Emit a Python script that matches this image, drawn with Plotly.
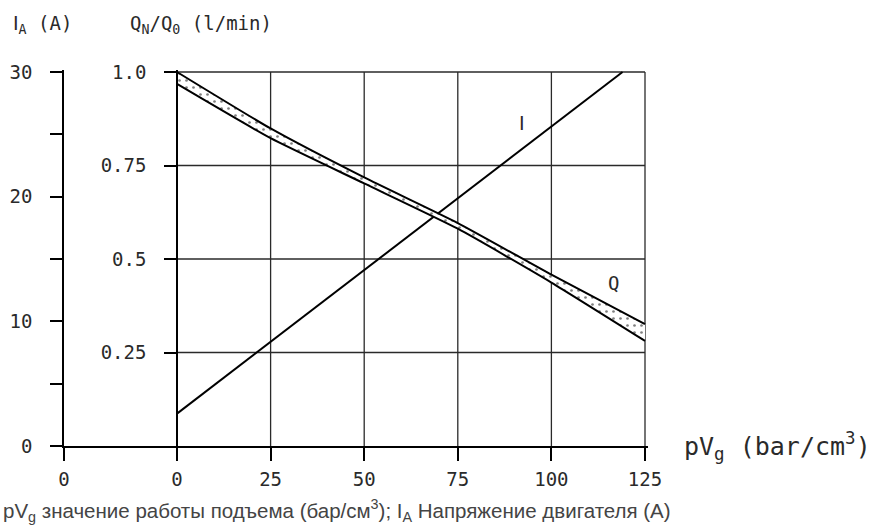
import plotly.graph_objects as go

# ---- data ----
PV = [0, 25, 50, 75, 100, 125]                      # pV_g (bar/cm3)
Q_UPPER = [1.0, 0.849, 0.718, 0.596, 0.458, 0.326]  # Q_N/Q_0 upper bound
Q_LOWER = [0.968, 0.823, 0.702, 0.581, 0.437, 0.281]  # Q_N/Q_0 lower bound
I_PV = [0, 119]                                     # pV_g for motor current line
I_A = [2.6, 30]                                     # motor current (A)

X_TICKS = [0, 25, 50, 75, 100, 125]
Q_TICKS = [0.25, 0.5, 0.75, 1.0]
Q_TICK_TEXT = ["0.25", "0.5", "0.75", "1.0"]
I_TICKS = [0, 5, 10, 15, 20, 25, 30]
I_TICK_TEXT = ["0", "", "10", "", "20", "", "30"]
I_AXIS_POS = -30.18   # x position of the current axis (in pV_g units)

FONT = "DejaVu Sans Mono"
FS = 19
TXT = "#2a2a2a"
LINE = "#000000"
GRID = "#2a2a2a"
I_CHAR = '<span style="font-family:DejaVu Sans">I</span>'

fig = go.Figure()

fig.add_trace(go.Scatter(
    x=PV, y=Q_LOWER, yaxis="y2", mode="lines",
    line=dict(color=LINE, width=2, shape="spline", smoothing=0.5),
    showlegend=False, hoverinfo="skip"))
fig.add_trace(go.Scatter(
    x=PV, y=Q_UPPER, yaxis="y2", mode="lines", fill="tonexty",
    fillcolor="rgba(0,0,0,0)",
    fillpattern=dict(shape=".", fgcolor="#000000", bgcolor="white", size=7, solidity=0.12),
    line=dict(color=LINE, width=2, shape="spline", smoothing=0.5),
    showlegend=False, hoverinfo="skip"))
fig.add_trace(go.Scatter(
    x=I_PV, y=I_A, yaxis="y", mode="lines",
    line=dict(color=LINE, width=2),
    showlegend=False, hoverinfo="skip"))

shapes = []
for xv in X_TICKS:
    shapes.append(dict(type="line", xref="x", yref="y2", x0=xv, x1=xv, y0=0, y1=1.0,
                       line=dict(color=GRID, width=1.3), layer="below"))
for qv in Q_TICKS:
    shapes.append(dict(type="line", xref="x", yref="y2", x0=0, x1=X_TICKS[-1], y0=qv, y1=qv,
                       line=dict(color=GRID, width=1.3), layer="below"))

L, T, B = 64, 70, 80
plot_w = 584
plot_h = 526 - T - B
x_min = I_AXIS_POS
x_max = 125.8
q_pos = (0 - x_min) / (x_max - x_min)

tickfont = dict(family=FONT, size=FS, color=TXT)

fig.update_layout(
    width=875, height=526,
    margin=dict(l=L, r=875 - L - plot_w, t=T, b=B, pad=0, autoexpand=False),
    paper_bgcolor="white", plot_bgcolor="white",
    font=dict(family=FONT, size=FS, color=TXT),
    shapes=shapes,
    xaxis=dict(
        range=[x_min, x_max], automargin=False,
        tickmode="array",
        tickvals=[I_AXIS_POS] + X_TICKS,
        ticktext=["0"] + [str(v) for v in X_TICKS],
        ticks="outside", ticklen=13, tickwidth=1.5, tickcolor=LINE,
        showline=True, linecolor=LINE, linewidth=1.5,
        showgrid=False, zeroline=False,
        ticklabelstandoff=2,
        tickfont=tickfont,
    ),
    yaxis=dict(
        range=[0, 30 * plot_h / 374], automargin=False,
        tickmode="array", tickvals=I_TICKS, ticktext=I_TICK_TEXT,
        ticks="outside", ticklen=12, tickwidth=1.5, tickcolor=LINE,
        showline=True, linecolor=LINE, linewidth=1.5,
        showgrid=False, zeroline=False,
        ticklabelstandoff=14,
        tickfont=tickfont,
    ),
    yaxis2=dict(
        range=[0, plot_h / 374], overlaying="y", anchor="free", position=q_pos, side="left",
        automargin=False,
        tickmode="array", tickvals=Q_TICKS, ticktext=Q_TICK_TEXT,
        ticks="outside", ticklen=12, tickwidth=1.5, tickcolor=LINE,
        showline=True, linecolor=LINE, linewidth=1.5,
        showgrid=False, zeroline=False,
        ticklabelstandoff=14,
        tickfont=tickfont,
    ),
)

def px_x(px):
    return (px - L) / plot_w

def px_y(py):
    return (T + plot_h - py) / plot_h

ann = [
    dict(text=I_CHAR, xref="x", yref="y2", x=92.1, y=0.864, showarrow=False,
         font=dict(family=FONT, size=FS, color=TXT)),
    dict(text="Q", xref="x", yref="y2", x=116.5, y=0.436, showarrow=False,
         font=dict(family=FONT, size=FS, color=TXT)),
    dict(text=I_CHAR + "<sub>A</sub> (A)", xref="paper", yref="paper", x=px_x(11), y=px_y(25),
         xanchor="left", yanchor="middle", showarrow=False,
         font=dict(family=FONT, size=FS, color=TXT)),
    dict(text="Q<sub>N</sub>/Q<sub>0</sub> (l/min)", xref="paper", yref="paper",
         x=px_x(128), y=px_y(25), xanchor="left", yanchor="middle", showarrow=False,
         font=dict(family=FONT, size=FS, color=TXT)),
    dict(text="pV<sub>g</sub> (bar/cm<sup>3</sup>)", xref="paper", yref="paper",
         x=px_x(682), y=px_y(446), xanchor="left", yanchor="middle", showarrow=False,
         font=dict(family=FONT, size=25, color=TXT)),
    dict(text="pV<sub>g</sub> значение работы подъема (бар/см<sup>3</sup>); I<sub>A</sub> Напряжение двигателя (A)",
         xref="paper", yref="paper", x=px_x(1), y=px_y(510), xanchor="left", yanchor="middle",
         showarrow=False, font=dict(family="Liberation Sans, Arial", size=20.5, color="#444444")),
]
fig.update_layout(annotations=ann)

fig.write_html("out.html", config={"displayModeBar": False},
               post_script="document.body.style.margin='0';document.body.style.padding='0';")
